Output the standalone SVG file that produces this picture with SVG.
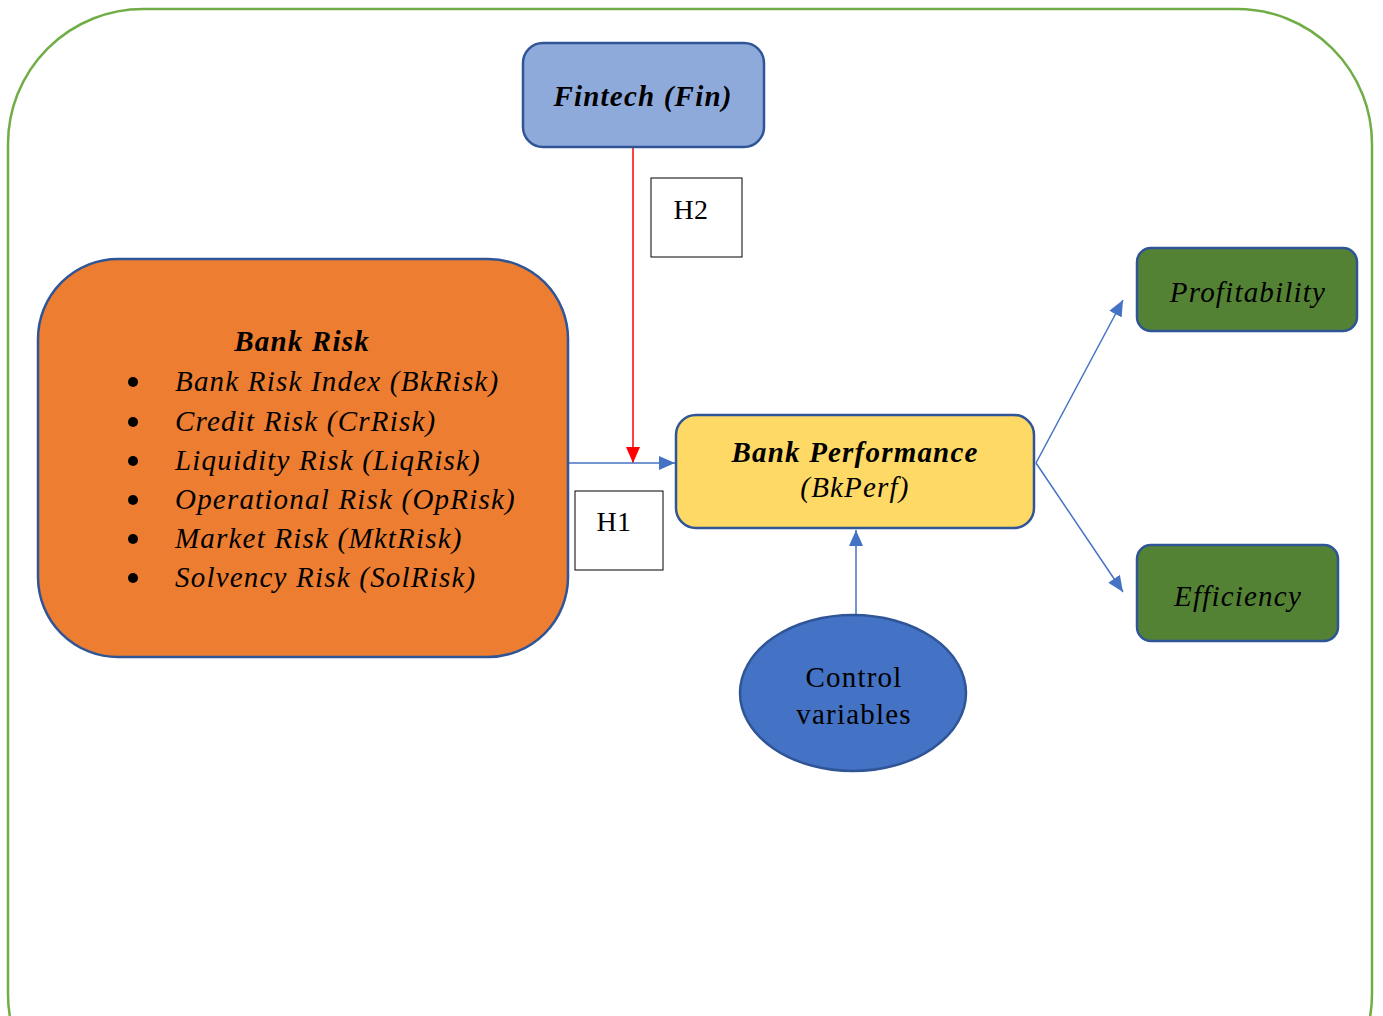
<svg xmlns="http://www.w3.org/2000/svg" width="1383" height="1016" viewBox="0 0 1383 1016">
<style>
text{font-family:"Liberation Serif","Times New Roman",serif;fill:#000;letter-spacing:1.2px}
.bi{font-weight:bold;font-style:italic;font-size:29px}
.it{font-style:italic;font-size:29px}
.rg{font-size:29px}
.hb{font-size:28px;letter-spacing:0.5px}
.node{stroke:#2F5597;stroke-width:2.5}
.conn{stroke:#4472C4;stroke-width:1.5;fill:none}
</style>
<defs>
<marker id="ab2" viewBox="0 0 16 14" refX="16" refY="7" markerWidth="16" markerHeight="14" markerUnits="userSpaceOnUse" orient="auto">
<path d="M0,0 L16,7 L0,14 z" fill="#4472C4"/>
</marker>
<marker id="ar" viewBox="0 0 16 14" refX="16" refY="7" markerWidth="16" markerHeight="14" markerUnits="userSpaceOnUse" orient="auto">
<path d="M0,0 L16,7 L0,14 z" fill="#FF0000"/>
</marker>
</defs>
<rect id="frame" x="8" y="9" width="1364" height="1120" rx="135" ry="135" fill="none" stroke="#70AD47" stroke-width="2.5"/>
<g id="connectors">
<line x1="633" y1="148" x2="633" y2="463" stroke="#FF0000" stroke-width="1.5" marker-end="url(#ar)"/>
<line class="conn" x1="568" y1="463" x2="675" y2="463" marker-end="url(#ab2)"/>
<line class="conn" x1="1036" y1="463" x2="1123" y2="300" marker-end="url(#ab2)"/>
<line class="conn" x1="1036" y1="463" x2="1123" y2="592" marker-end="url(#ab2)"/>
<line class="conn" x1="856" y1="615" x2="856" y2="530" marker-end="url(#ab2)"/>
</g>
<g id="fintech">
<rect class="node" x="523" y="43" width="241" height="104" rx="20" fill="#8EAADB"/>
<text class="bi" x="643" y="106" text-anchor="middle">Fintech (Fin)</text>
</g>
<g id="h2">
<rect x="651" y="178" width="91" height="79" fill="#fff" stroke="#000" stroke-width="1"/>
<text class="hb" x="691" y="219" text-anchor="middle">H2</text>
</g>
<g id="bankrisk">
<rect class="node" x="38" y="259" width="530" height="398" rx="80" fill="#ED7D31"/>
<text class="bi" x="302" y="351" text-anchor="middle">Bank Risk</text>
<g fill="#000">
<circle cx="133" cy="382" r="5"/>
<circle cx="133" cy="422" r="5"/>
<circle cx="133" cy="461" r="5"/>
<circle cx="133" cy="500" r="5"/>
<circle cx="133" cy="539" r="5"/>
<circle cx="133" cy="578" r="5"/>
</g>
<text class="it" x="175" y="391">Bank Risk Index (BkRisk)</text>
<text class="it" x="175" y="431">Credit Risk (CrRisk)</text>
<text class="it" x="175" y="470">Liquidity Risk (LiqRisk)</text>
<text class="it" x="175" y="509">Operational Risk (OpRisk)</text>
<text class="it" x="175" y="548">Market Risk (MktRisk)</text>
<text class="it" x="175" y="587">Solvency Risk (SolRisk)</text>
</g>
<g id="h1">
<rect x="575" y="491" width="88" height="79" fill="#fff" stroke="#000" stroke-width="1"/>
<text class="hb" x="614" y="531" text-anchor="middle">H1</text>
</g>
<g id="bankperf">
<rect class="node" x="676" y="415" width="358" height="113" rx="20" fill="#FFD966"/>
<text class="bi" x="855" y="462" text-anchor="middle">Bank Performance</text>
<text class="it" x="855" y="497" text-anchor="middle">(BkPerf)</text>
</g>
<g id="profitability">
<rect class="node" x="1137" y="248" width="220" height="83" rx="14" fill="#548235"/>
<text class="it" x="1248" y="302" text-anchor="middle">Profitability</text>
</g>
<g id="efficiency">
<rect class="node" x="1137" y="545" width="201" height="96" rx="14" fill="#548235"/>
<text class="it" x="1238" y="606" text-anchor="middle">Efficiency</text>
</g>
<g id="control">
<ellipse class="node" cx="853" cy="693" rx="113" ry="78" fill="#4472C4"/>
<text class="rg" x="854" y="687" text-anchor="middle">Control</text>
<text class="rg" x="854" y="724" text-anchor="middle">variables</text>
</g>
</svg>
